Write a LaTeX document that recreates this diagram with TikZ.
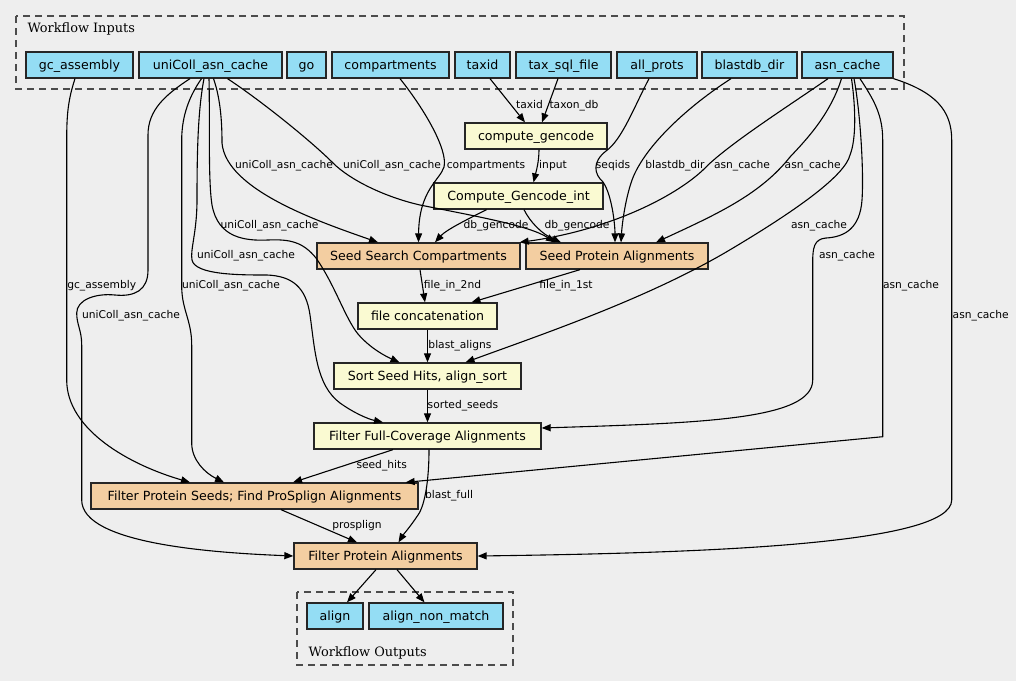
\documentclass[tikz,border=0pt]{standalone}
\usepackage{fontspec}
\setmainfont{DejaVu Sans}
\newfontfamily\serifcl{DejaVu Serif}
\usetikzlibrary{arrows.meta}
\definecolor{bg}{HTML}{EEEEEE}
\definecolor{inp}{HTML}{94DDF4}
\definecolor{stp}{HTML}{FAFAD2}
\definecolor{sub}{HTML}{F3CEA1}
\begin{document}
\begin{tikzpicture}[x=1pt,y=-1pt,
 box/.style={draw=black!85, line width=1.3pt, minimum height=26pt, inner sep=0pt,
   font=\fontsize{12.6}{15}\selectfont, text height=9.6pt, text depth=1pt},
 inbox/.style={box, fill=inp},
 stepbox/.style={box, fill=stp},
 subbox/.style={box, fill=sub},
 lbl/.style={font=\fontsize{10.7}{12}\selectfont, inner sep=0pt, text height=8pt, text depth=0pt, text=black},
 edge/.style={-{Triangle[length=9pt,width=7pt]}, line width=1.1pt},
 cluster/.style={draw=black!70, dash pattern=on 7pt off 5pt, line width=1.3pt},
 cllbl/.style={anchor=base west, inner sep=0pt, font=\serifcl\fontsize{12.9}{15}\selectfont}
]
\fill[bg] (0,0) rectangle (1016,681);
\useasboundingbox (0,0) rectangle (1016,681);

% clusters
\draw[cluster] (16,16) rectangle (904,89);
\node[cllbl] (inlbl) at (27.3,32.3) {Workflow Inputs};
\draw[cluster] (297,592) rectangle (513,665);
\node[cllbl] (outlbl) at (308.5,656.5) {Workflow Outputs};

% inputs
\node[inbox, minimum width=107pt] (gc) at (79.5,65) {gc\_assembly};
\node[inbox, minimum width=143pt] (uni) at (210.5,65) {uniColl\_asn\_cache};
\node[inbox, minimum width=39pt] (go) at (306.5,65) {go};
\node[inbox, minimum width=117pt] (comp) at (390.5,65) {compartments};
\node[inbox, minimum width=55pt] (taxid) at (482.5,65) {taxid};
\node[inbox, minimum width=95pt] (taxsql) at (563.5,65) {tax\_sql\_file};
\node[inbox, minimum width=80pt] (allp) at (657,65) {all\_prots};
\node[inbox, minimum width=95pt] (bdb) at (749.5,65) {blastdb\_dir};
\node[inbox, minimum width=91pt] (asn) at (847.5,65) {asn\_cache};

% steps
\node[stepbox, minimum width=142pt] (cg) at (536,136) {compute\_gencode};
\node[stepbox, minimum width=169pt] (cgi) at (518.5,196) {Compute\_Gencode\_int};
\node[subbox, minimum width=203pt] (ssc) at (418.5,256) {Seed Search Compartments};
\node[subbox, minimum width=182pt] (spa) at (617,256) {Seed Protein Alignments};
\node[stepbox, minimum width=139pt] (fc) at (427.5,316) {file concatenation};
\node[stepbox, minimum width=187pt] (sort) at (427.5,376) {Sort Seed Hits, align\_sort};
\node[stepbox, minimum width=227pt] (ffc) at (427.5,436) {Filter Full-Coverage Alignments};
\node[subbox, minimum width=327pt] (fps) at (254.5,496) {Filter Protein Seeds; Find ProSplign Alignments};
\node[subbox, minimum width=183pt] (fpa) at (385.5,556) {Filter Protein Alignments};

% outputs
\node[inbox, minimum width=56pt] (align) at (335,616) {align};
\node[inbox, minimum width=134pt] (anm) at (436,616) {align\_non\_match};

% edges
\draw[edge] ([xshift=7.5pt]taxid.south) -- ([xshift=-11pt]cg.north);
\draw[edge] ([xshift=-5.5pt]taxsql.south) -- ([xshift=6pt]cg.north);
\draw[edge] ([xshift=3pt]cg.south) .. controls (539,162) and (536,172) .. ([xshift=15pt]cgi.north);
\draw[edge] ([xshift=-32pt]cgi.south) .. controls (466,220) and (446,230) .. ([xshift=16.5pt]ssc.north);
\draw[edge] ([xshift=5.5pt]cgi.south) .. controls (530,222) and (542,234) .. ([xshift=-56pt]spa.north);
\draw[edge] ([xshift=3pt]uni.south) .. controls (221,100) and (222,125) .. (222,143)
   .. controls (226,190) and (320,222) .. ([xshift=-40.5pt]ssc.north);
\draw[edge] ([xshift=17pt]uni.south) .. controls (260,100) and (310,140) .. (333,163)
   .. controls (350,180) and (385,197) .. (420,205)
   .. controls (480,217) and (530,226) .. ([xshift=-62pt]spa.north);
\draw[edge] ([xshift=9.5pt]comp.south) .. controls (425,110) and (448,150) .. (444,167)
   .. controls (440,180) and (419,190) .. (ssc.north);
\draw[edge] ([xshift=-8pt]allp.south) .. controls (635,105) and (622,140) .. (606,151)
   .. controls (592,162) and (594,174) .. (603,182)
   .. controls (612,195) and (615,225) .. ([xshift=-2pt]spa.north);
\draw[edge] ([xshift=-18.5pt]bdb.south) .. controls (690,105) and (645,145) .. (632,180)
   .. controls (625,200) and (622,225) .. ([xshift=4pt]spa.north);
\draw[edge] ([xshift=-19.5pt]asn.south) .. controls (790,105) and (735,140) .. (708,165)
   .. controls (680,195) and (610,230) .. ([xshift=-1pt]ssc.north east);
\draw[edge] ([xshift=-6pt]asn.south) .. controls (830,115) and (806,140) .. (790,157)
   .. controls (760,195) and (715,215) .. ([xshift=39pt]spa.north);
\draw[edge] ([xshift=4pt]asn.south) .. controls (856,110) and (856,140) .. (850,155)
   .. controls (845,175) and (800,208) .. (733,248)
   .. controls (650,298) and (540,335) .. ([xshift=38pt]sort.north);
\draw[edge] ([xshift=6.5pt]asn.south) .. controls (860,110) and (864,170) .. (862,200)
   .. controls (860,228) and (845,237) .. (826,238)
   .. controls (814,239) and (812.7,248) .. (812.7,262) -- (812.7,380)
   .. controls (812.7,420) and (700,423) .. ([yshift=8pt]ffc.east);
\draw[edge] ([xshift=12.5pt]asn.south) .. controls (874,100) and (882.7,115) .. (882.7,140)
   -- (882.7,436.7) -- ([xshift=-13pt]fps.north east);
\draw[edge] (asn.south east) .. controls (935,92) and (951.7,110) .. (951.7,140)
   -- (951.7,500) .. controls (951.7,545) and (700,553) .. (fpa.east);
\draw[edge] ([xshift=1.5pt]ssc.south) -- ([xshift=-2.5pt]fc.north);
\draw[edge] ([xshift=-37pt]spa.south) -- ([xshift=44pt]fc.north);
\draw[edge] (fc.south) -- (sort.north);
\draw[edge] ([xshift=-1.5pt]uni.south) .. controls (210,120) and (208,180) .. (212,205)
   .. controls (218,238) and (245,241) .. (268,240)
   .. controls (290,239) and (303,242) .. (316,258)
   .. controls (335,285) and (345,318) .. (358,334)
   .. controls (370,348) and (385,356) .. ([xshift=-28pt]sort.north);
\draw[edge] (sort.south) -- (ffc.north);
\draw[edge] ([xshift=-6.5pt]uni.south) .. controls (198,110) and (197,150) .. (197,200)
   .. controls (197,232) and (190,250) .. (192,260)
   .. controls (195,275) and (240,275) .. (267,275)
   .. controls (292,276) and (306,287) .. (310,315)
   .. controls (315,350) and (316,385) .. (340,403)
   .. controls (354,413) and (368,419) .. ([xshift=-44.5pt]ffc.north);
\draw[edge] ([xshift=-34.5pt]ffc.south) -- ([xshift=38.5pt]fps.north);
\draw[edge] ([xshift=-4.5pt]gc.south) .. controls (68,100) and (66.7,115) .. (66.7,140)
   -- (66.7,380) .. controls (66.7,430) and (130,465) .. ([xshift=-64.5pt]fps.north);
\draw[edge] ([xshift=-9pt]uni.south) .. controls (190,95) and (181.7,115) .. (181.7,140)
   -- (181.7,286) .. controls (181.7,310) and (191.7,320) .. (191.7,345)
   -- (191.7,443) .. controls (191.7,460) and (205,473) .. ([xshift=-30.5pt]fps.north);
\draw[edge] ([xshift=1.5pt]ffc.south) .. controls (429,480) and (425,505) .. (418,515)
   .. controls (410,527) and (403,535) .. ([xshift=13pt]fpa.north);
\draw[edge] ([xshift=26.5pt]fps.south) -- ([xshift=-28.5pt]fpa.north);
\draw[edge] ([xshift=-20.5pt]uni.south) .. controls (165,95) and (148,110) .. (148,135)
   -- (148,270) .. controls (148,290) and (135,297) .. (115,295)
   .. controls (95,293) and (76.7,300) .. (76.7,313)
   .. controls (76.7,325) and (81.7,330) .. (81.7,345)
   -- (81.7,500) .. controls (81.7,545) and (220,553) .. (fpa.west);
\draw[edge] ([xshift=-9.5pt]fpa.south) -- ([xshift=12pt]align.north);
\draw[edge] ([xshift=11.5pt]fpa.south) -- ([xshift=-11.5pt]anm.north);

% edge labels
\node[lbl] (l1) at (529.5,104) {taxid};
\node[lbl] (l2) at (574,104) {taxon\_db};
\node[lbl] (l3) at (553,164) {input};
\node[lbl] (l4) at (486,164) {compartments};
\node[lbl] (l5) at (284,164) {uniColl\_asn\_cache};
\node[lbl] (l6) at (392,164) {uniColl\_asn\_cache};
\node[lbl] (l7) at (613,164) {seqids};
\node[lbl] (l8) at (675,164) {blastdb\_dir};
\node[lbl] (l9) at (742,164) {asn\_cache};
\node[lbl] (l10) at (812.7,164) {asn\_cache};
\node[lbl] (l11) at (496,224) {db\_gencode};
\node[lbl] (l12) at (577,224) {db\_gencode};
\node[lbl] (l13) at (269.5,224) {uniColl\_asn\_cache};
\node[lbl] (l14) at (819,224) {asn\_cache};
\node[lbl] (l15) at (246,254) {uniColl\_asn\_cache};
\node[lbl] (l16) at (847,254) {asn\_cache};
\node[lbl] (l17) at (101.7,284) {gc\_assembly};
\node[lbl] (l18) at (231,284) {uniColl\_asn\_cache};
\node[lbl] (l19) at (452.5,284) {file\_in\_2nd};
\node[lbl] (l20) at (566,284) {file\_in\_1st};
\node[lbl] (l21) at (911,284) {asn\_cache};
\node[lbl] (l22) at (131,314) {uniColl\_asn\_cache};
\node[lbl] (l23) at (980.7,314) {asn\_cache};
\node[lbl] (l24) at (460,344) {blast\_aligns};
\node[lbl] (l25) at (463,404) {sorted\_seeds};
\node[lbl] (l26) at (381.7,464) {seed\_hits};
\node[lbl] (l27) at (449,494) {blast\_full};
\node[lbl] (l28) at (357,524) {prosplign};
\end{tikzpicture}
\end{document}
